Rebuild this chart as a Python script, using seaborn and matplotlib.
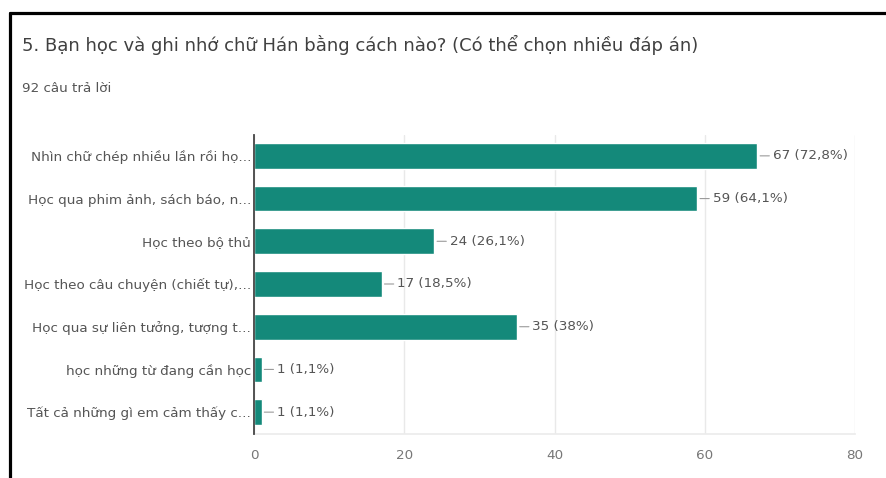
import matplotlib
matplotlib.use("Agg")
import matplotlib.pyplot as plt
from matplotlib.lines import Line2D
import seaborn as sns
import pandas as pd

# Survey answers (multiple choice, 92 respondents)
answers = [
    "Nhìn chữ chép nhiều lần rồi họ...",
    "Học qua phim ảnh, sách báo, n...",
    "Học theo bộ thủ",
    "Học theo câu chuyện (chiết tự),...",
    "Học qua sự liên tưởng, tượng t...",
    "học những từ đang cần học",
    "Tất cả những gì em cảm thấy c...",
]
counts = [67, 59, 24, 17, 35, 1, 1]
percents = ["72,8%", "64,1%", "26,1%", "18,5%", "38%", "1,1%", "1,1%"]
x_ticks = [0, 20, 40, 60, 80]

title = "5. Bạn học và ghi nhớ chữ Hán bằng cách nào? (Có thể chọn nhiều đáp án)"
subtitle = "92 câu trả lời"

TEAL = "#14897a"
TEXT = "#555555"
SMALL = 9.7

sns.set_theme(style="white")
plt.rcParams["font.family"] = ["DejaVu Sans"]

W, H = 886, 478
fig = plt.figure(figsize=(W / 100, H / 100), dpi=100)
fig.patch.set_facecolor("white")

# plot area in pixel terms
left, right, top, bottom = 254, 855, 134.5, 433.5
ax = fig.add_axes([left / W, 1 - bottom / H, (right - left) / W, (bottom - top) / H])

df = pd.DataFrame({"answer": answers, "count": counts})
sns.barplot(data=df, x="count", y="answer", orient="h", color=TEAL,
            saturation=1, width=0.6, ax=ax)

ax.set_xlim(0, 80)
ax.set_xticks(x_ticks)
ax.set_xlabel("")
ax.set_ylabel("")
ax.grid(axis="x", color="#e9e9e9", linewidth=1)
ax.set_axisbelow(True)

for s in ["top", "right"]:
    ax.spines[s].set_visible(False)
ax.spines["bottom"].set_color("#ececec")
ax.spines["left"].set_color("#444444")
ax.spines["left"].set_linewidth(1.3)
ax.spines["left"].set_zorder(5)

ax.tick_params(axis="y", length=0, pad=2, labelsize=SMALL, labelcolor=TEXT)
ax.tick_params(axis="x", length=0, pad=11, labelsize=SMALL, labelcolor="#777777")

# value labels with a short leader line
for i, (c, p) in enumerate(zip(counts, percents)):
    ax.annotate(f"{c} ({p})", xy=(c, i), xytext=(11, 0), textcoords="offset points",
                va="center", ha="left", fontsize=SMALL, color=TEXT,
                arrowprops=dict(arrowstyle="-", color="#9a9a9a", lw=0.8,
                                shrinkA=0, shrinkB=2))

fig.text(22 / W, 1 - 45 / H, title, fontsize=13.0, color="#404040", va="center", ha="left")
fig.text(22 / W, 1 - 88 / H, subtitle, fontsize=9.7, color="#555555", va="center", ha="left")

# frame lines along the top and left edges
fig.add_artist(Line2D([9.5 / W, 1], [1 - 13 / H, 1 - 13 / H], color="black", lw=2.3,
                      transform=fig.transFigure))
fig.add_artist(Line2D([9.5 / W, 9.5 / W], [0, 1 - 13 / H], color="black", lw=2.3,
                      transform=fig.transFigure))

fig.savefig("out.png", dpi=100, facecolor="white")
